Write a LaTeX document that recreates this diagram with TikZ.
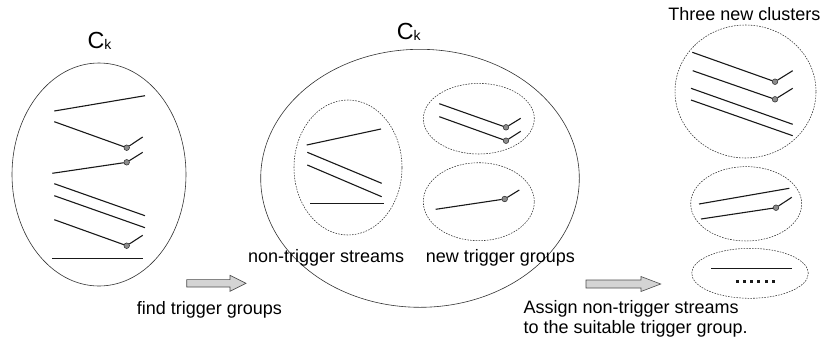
\documentclass[tikz,border=0pt]{standalone}
\usepackage{fontspec}
\setmainfont{Liberation Sans}
\usetikzlibrary{shapes.geometric}
\begin{document}
\begin{tikzpicture}[x=1pt,y=-1pt,
  cluster/.style={draw=black!80, line width=0.6pt, ellipse, inner sep=0pt},
  group/.style={draw=black!80, line width=0.55pt, ellipse, inner sep=0pt,
                dash pattern=on 1.6pt off 1.2pt},
  stream/.style={line width=1.1pt, draw=black!90},
  trig/.style={circle, draw=black!85, fill=black!45, line width=0.5pt,
               minimum size=5.6pt, inner sep=0pt},
  lbl/.style={font=\fontsize{18}{21}\selectfont, inner sep=0pt, anchor=base west},
  cklbl/.style={font=\fontsize{23.3}{26}\selectfont, inner sep=0pt, anchor=base west},
  blockarrow/.style={draw=black!70, fill=black!17, line width=0.6pt, line join=miter},
  dotsq/.style={fill=black!90},
]
\useasboundingbox (0,0) rectangle (821,346);

% ---------- original cluster ----------
\node[cluster, minimum width=174pt, minimum height=223pt] (ck1) at (99,174.5) {};
\node[cklbl] (ck1t) at (87.3,48.3) {C\raisebox{-1.5pt}{\fontsize{14}{14}\selectfont k}};

\coordinate (a1) at (54.3,111);   \coordinate (b1) at (145,95.7);
\draw[stream] (a1) -- (b1);
\coordinate (a2) at (54.3,121.7); \node[trig] (t2) at (126.7,147.7) {}; \coordinate (b2) at (142.7,137);
\draw[stream] (a2) -- (t2) -- (b2);
\coordinate (a3) at (52.3,173.3); \node[trig] (t3) at (126.7,162.3) {}; \coordinate (b3) at (142.7,152.3);
\draw[stream] (a3) -- (t3) -- (b3);
\coordinate (a4) at (54.3,183.7); \coordinate (b4) at (145,215.7);
\draw[stream] (a4) -- (b4);
\coordinate (a5) at (54.3,195.7); \coordinate (b5) at (145,227.7);
\draw[stream] (a5) -- (b5);
\coordinate (a6) at (54.3,219.7); \node[trig] (t6) at (126.7,245.7) {}; \coordinate (b6) at (142.7,235.3);
\draw[stream] (a6) -- (t6) -- (b6);
\coordinate (a7) at (52.3,258.3); \coordinate (b7) at (142.7,258.3);
\draw[stream] (a7) -- (b7);

% ---------- first step ----------
\draw[blockarrow] (186.7,279.6) -- (230,279.6) -- (230,275.3) -- (246,283.3)
  -- (230,291.3) -- (230,287) -- (186.7,287) -- cycle;
\node[lbl] (find) at (136.7,314) {find trigger groups};

% ---------- cluster split into groups ----------
\node[cluster, minimum width=318.6pt, minimum height=258pt] (ck2) at (420,178.3) {};
\node[cklbl] (ck2t) at (396.7,39) {C\raisebox{-1.5pt}{\fontsize{14}{14}\selectfont k}};

\node[group, minimum width=108pt, minimum height=135pt] (nt) at (348,167.5) {};
\coordinate (c1) at (306.7,145);   \coordinate (d1) at (381,129);
\draw[stream] (c1) -- (d1);
\coordinate (c2) at (307.3,152.3); \coordinate (d2) at (381.7,183.3);
\draw[stream] (c2) -- (d2);
\coordinate (c3) at (307.3,165);   \coordinate (d3) at (381.7,196.7);
\draw[stream] (c3) -- (d3);
\coordinate (c4) at (310,203.3);   \coordinate (d4) at (384.3,203.3);
\draw[stream] (c4) -- (d4);

\node[group, minimum width=111pt, minimum height=70.6pt] (g1) at (478.8,118.7) {};
\coordinate (e1) at (439.3,103.7); \node[trig] (u1) at (506,127.3) {}; \coordinate (f1) at (520.7,118.3);
\draw[stream] (e1) -- (u1) -- (f1);
\coordinate (e2) at (439.3,116.7); \node[trig] (u2) at (506,140.7) {}; \coordinate (f2) at (520.7,131.3);
\draw[stream] (e2) -- (u2) -- (f2);

\node[group, minimum width=111pt, minimum height=78pt] (g2) at (478.8,201.7) {};
\coordinate (e3) at (435.7,209.3); \node[trig] (u3) at (504.7,199) {}; \coordinate (f3) at (519.3,190);
\draw[stream] (e3) -- (u3) -- (f3);

\node[lbl] (ntl) at (248,262) {non-trigger streams};
\node[lbl] (ngl) at (425.7,262) {new trigger groups};

% ---------- second step ----------
\draw[blockarrow] (586,280) -- (641,280) -- (641,276.5) -- (660.7,284)
  -- (641,291.5) -- (641,288) -- (586,288) -- cycle;
\node[lbl] (as1) at (523.3,313.3) {Assign non-trigger streams};
\node[lbl] (as2) at (523.3,333.3) {to the suitable trigger group.};

% ---------- resulting clusters ----------
\node[lbl, anchor=base east] (three) at (820.7,20.5) {Three new clusters};

\node[group, minimum width=141pt, minimum height=133pt] (n1) at (745.5,91.5) {};
\coordinate (h1) at (692.3,52.3); \node[trig] (v1) at (775,81.7) {}; \coordinate (k1) at (792.7,70.7);
\draw[stream] (h1) -- (v1) -- (k1);
\coordinate (h2) at (692.7,70.7); \node[trig] (v2) at (775,99.3) {}; \coordinate (k2) at (792.7,88.3);
\draw[stream] (h2) -- (v2) -- (k2);
\coordinate (h3) at (691,88.3);   \coordinate (k3) at (792.7,124.3);
\draw[stream] (h3) -- (k3);
\coordinate (h4) at (691,100);    \coordinate (k4) at (792.7,135.7);
\draw[stream] (h4) -- (k4);

\node[group, minimum width=111pt, minimum height=74.4pt] (n2) at (746.2,203.8) {};
\coordinate (h5) at (699,204);    \coordinate (k5) at (789.3,188.3);
\draw[stream] (h5) -- (k5);
\coordinate (h6) at (701,219);    \node[trig] (v6) at (776,207.7) {}; \coordinate (k6) at (791.7,197.3);
\draw[stream] (h6) -- (v6) -- (k6);

\node[group, minimum width=116.6pt, minimum height=50pt] (n3) at (750,273.3) {};
\coordinate (h7) at (711,268.3);  \coordinate (k7) at (791.7,268.3);
\draw[stream] (h7) -- (k7);
\foreach \i in {0,...,5}
  \fill[dotsq] (737.3+7.2*\i-1.5,279.5) rectangle ++(3,3);
\end{tikzpicture}
\end{document}
